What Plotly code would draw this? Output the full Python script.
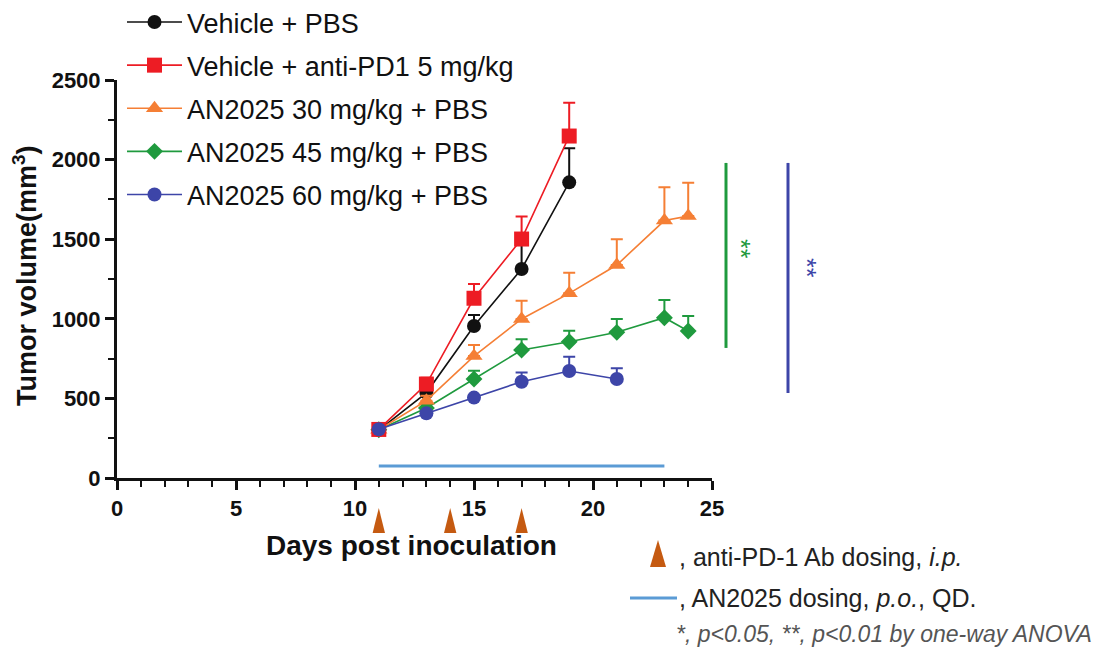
import plotly.graph_objects as go

# ---------------- data ----------------
series_names = [
    "Vehicle + PBS",
    "Vehicle + anti-PD1 5 mg/kg",
    "AN2025 30 mg/kg + PBS",
    "AN2025 45 mg/kg + PBS",
    "AN2025 60 mg/kg + PBS",
]

days_vehicle = [11, 13, 15, 17, 19]
vehicle_pbs = [301, 535, 955, 1313, 1857]
vehicle_pbs_err = [10, 30, 69, 150, 215]

vehicle_pd1 = [305, 590, 1129, 1501, 2148]
vehicle_pd1_err = [10, 40, 89, 141, 209]

days_an30 = [11, 13, 15, 17, 19, 21, 23, 24]
an30 = [303, 486, 766, 999, 1160, 1338, 1617, 1645]
an30_err = [10, 30, 69, 115, 130, 161, 209, 210]

days_an45 = [11, 13, 15, 17, 19, 21, 23, 24]
an45 = [303, 440, 622, 804, 856, 915, 1007, 923]
an45_err = [10, 25, 52, 67, 69, 84, 111, 95]

days_an60 = [11, 13, 15, 17, 19, 21]
an60 = [306, 406, 505, 605, 672, 622]
an60_err = [8, 12, 15, 57, 90, 67]

pd1_dose_days = [11, 14, 17]
an2025_dose_days = [11, 23]
an2025_dose_level = [75, 75]

x_ticks = [0, 5, 10, 15, 20, 25]
y_ticks = [0, 500, 1000, 1500, 2000, 2500]

# significance brackets: (ymin, ymax) in tumor volume units
sig_green_span = [817, 1979]
sig_blue_span = [534, 1979]
sig_green_star_y = 1438
sig_blue_star_y = 1319

# ---------------- styles ----------------
colors = ["#111111", "#ed1c24", "#f57f35", "#1f9a3e", "#3d45a8"]
symbols = ["circle", "square", "triangle-up", "diamond", "circle"]
sizes = [14, 15, 15, 13, 14]
FONT = "Liberation Sans, Arial, sans-serif"

data = [
    (days_vehicle, vehicle_pbs, vehicle_pbs_err),
    (days_vehicle, vehicle_pd1, vehicle_pd1_err),
    (days_an30, an30, an30_err),
    (days_an45, an45, an45_err),
    (days_an60, an60, an60_err),
]

# page offset (browser body margin) compensation
OFF = 8
W, H = 1116 - OFF, 649 - OFF
# plot area in reference-image pixels
L, R, T, B = 117, 712, 80, 478


def px_x(p):
    return (p - L) / (R - L)


def px_y(p):
    return (B - p) / (B - T)


fig = go.Figure()

# AN2025 dosing line (light blue)
fig.add_trace(go.Scatter(
    x=an2025_dose_days, y=an2025_dose_level, mode="lines",
    line=dict(color="#5b9bd5", width=3), showlegend=False, hoverinfo="skip",
))

draw_order = [0, 3, 2, 1, 4]
for i in draw_order:
    xs, ys, es = data[i]
    fig.add_trace(go.Scatter(
        x=xs, y=ys, name=series_names[i], mode="lines+markers",
        legendgroup=f"g{i}", legendrank=i + 1,
        line=dict(color=colors[i], width=1.6),
        marker=dict(symbol=symbols[i], size=sizes[i], color=colors[i],
                    line=dict(width=0)),
        error_y=dict(type="data", symmetric=False, array=es,
                     arrayminus=[0] * len(es), color=colors[i],
                     thickness=2, width=6),
        cliponaxis=False,
    ))

shapes = []
# anti-PD-1 dosing triangles below the x axis
for d in pd1_dose_days:
    shapes.append(dict(
        type="path", xref="x", yref="paper",
        path=f"M {d - 0.26},{px_y(533)} L {d},{px_y(508)} L {d + 0.26},{px_y(533)} Z",
        fillcolor="#c55a11", line=dict(width=0),
    ))

# significance lines
shapes.append(dict(type="line", xref="paper", yref="y",
                   x0=px_x(726), x1=px_x(726),
                   y0=sig_green_span[0], y1=sig_green_span[1],
                   line=dict(color="#1f9a3e", width=3)))
shapes.append(dict(type="line", xref="paper", yref="y",
                   x0=px_x(788), x1=px_x(788),
                   y0=sig_blue_span[0], y1=sig_blue_span[1],
                   line=dict(color="#3d45a8", width=3)))

# bottom key: triangle and blue line
shapes.append(dict(
    type="path", xref="paper", yref="paper",
    path=f"M {px_x(650)},{px_y(567)} L {px_x(658)},{px_y(540)} L {px_x(666)},{px_y(567)} Z",
    fillcolor="#c55a11", line=dict(width=0),
))
shapes.append(dict(type="line", xref="paper", yref="paper",
                   x0=px_x(630), x1=px_x(677), y0=px_y(598), y1=px_y(598),
                   line=dict(color="#5b9bd5", width=3)))

annotations = [
    dict(text="<b>Days post inoculation</b>", xref="paper", yref="paper",
         x=px_x(411), y=px_y(545), xanchor="center", yanchor="middle",
         showarrow=False, font=dict(size=28, family=FONT, color="#111")),
    dict(text="<b>Tumor volume(mm<sup>3</sup>)</b>", xref="paper", yref="paper",
         x=px_x(25), y=px_y(276), xanchor="center", yanchor="middle",
         textangle=-90, showarrow=False,
         font=dict(size=27, family=FONT, color="#111")),
    dict(text="**", xref="paper", yref="y", x=px_x(741), y=sig_green_star_y,
         textangle=90, showarrow=False, xanchor="center", yanchor="middle",
         font=dict(size=25, family=FONT, color="#1f9a3e")),
    dict(text="**", xref="paper", yref="y", x=px_x(807), y=sig_blue_star_y,
         textangle=90, showarrow=False, xanchor="center", yanchor="middle",
         font=dict(size=25, family=FONT, color="#3d45a8")),
    dict(text=", anti-PD-1 Ab dosing, <i>i.p.</i>", xref="paper", yref="paper",
         x=px_x(677), y=px_y(557), xanchor="left", yanchor="middle",
         showarrow=False, font=dict(size=25, family=FONT, color="#222")),
    dict(text=", AN2025 dosing, <i>p.o.</i>, QD.", xref="paper", yref="paper",
         x=px_x(677), y=px_y(598), xanchor="left", yanchor="middle",
         showarrow=False, font=dict(size=25, family=FONT, color="#222")),
    dict(text="<i>*, p&lt;0.05, **, p&lt;0.01 by one-way ANOVA</i>", xref="paper",
         yref="paper", x=px_x(674), y=px_y(634), xanchor="left", yanchor="middle",
         showarrow=False, font=dict(size=23, family=FONT, color="#555")),
]

axis_common = dict(
    showline=True, linecolor="#111", linewidth=3,
    ticks="outside", ticklen=9, tickwidth=2.5, tickcolor="#111",
    showgrid=False, zeroline=False,
    tickfont=dict(size=22, family=FONT, color="#111", weight="bold"),
)

fig.update_layout(
    width=W, height=H,
    margin=dict(l=L - OFF, r=W - (R - OFF), t=T - OFF, b=H - (B - OFF),
                autoexpand=False),
    plot_bgcolor="white", paper_bgcolor="white",
    xaxis=dict(range=[0, 25], tickvals=x_ticks,
               minor=dict(dtick=1, ticks="outside", ticklen=6, tickwidth=2,
                          tickcolor="#111"),
               **axis_common),
    yaxis=dict(range=[0, 2500], tickvals=y_ticks,
               minor=dict(dtick=250, ticks="outside", ticklen=6, tickwidth=2,
                          tickcolor="#111"),
               **axis_common),
    legend=dict(x=px_x(122), y=px_y(-2), xanchor="left", yanchor="top",
                bgcolor="rgba(0,0,0,0)", tracegroupgap=5, itemwidth=55,
                font=dict(size=27, family=FONT, color="#111")),
    shapes=shapes, annotations=annotations,
    showlegend=True,
)

fig.write_html("out.html")
